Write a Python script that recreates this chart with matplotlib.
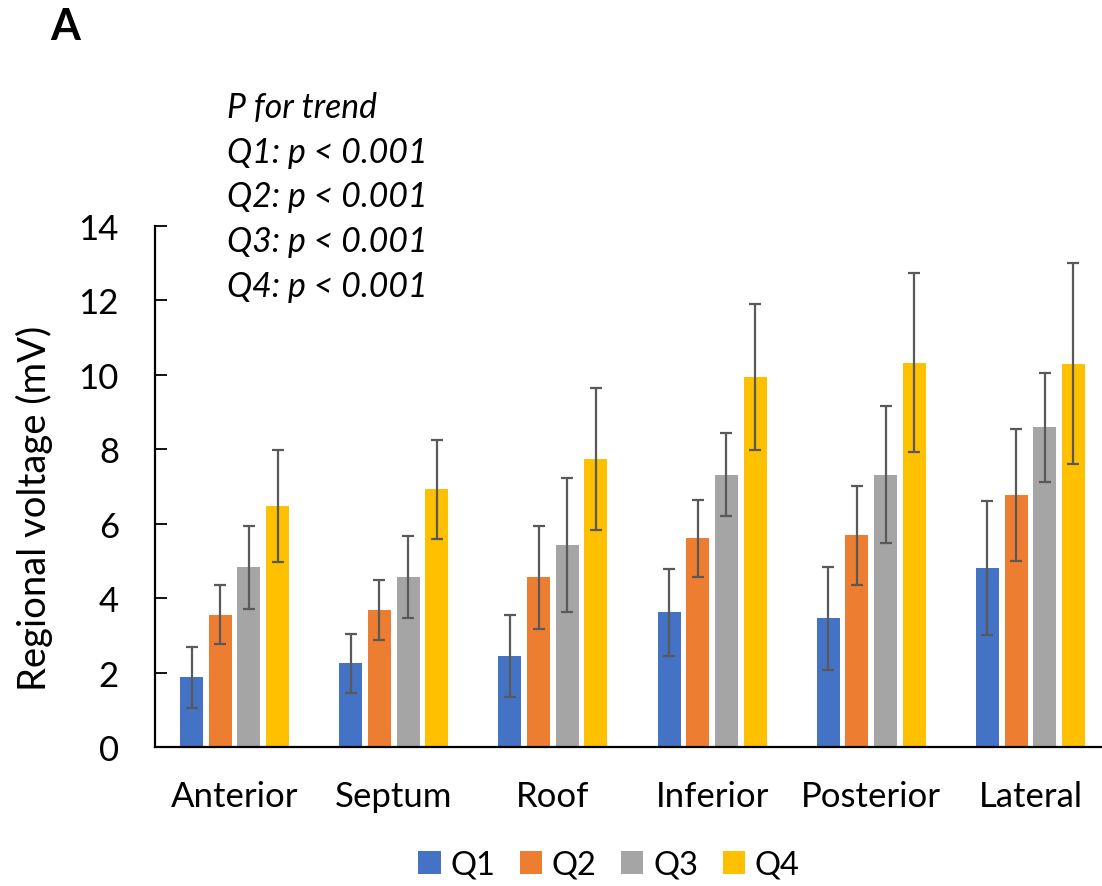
import numpy as np
import matplotlib
matplotlib.use("Agg")
import matplotlib.pyplot as plt
from matplotlib.patches import Patch

plt.rcParams['font.family'] = ['Lato', 'DejaVu Sans']

regions = ["Anterior", "Septum", "Roof", "Inferior", "Posterior", "Lateral"]
groups = ["Q1", "Q2", "Q3", "Q4"]

# mean regional voltage (mV) per quartile
q1_mean = [1.87, 2.25, 2.44, 3.62, 3.46, 4.82]
q2_mean = [3.56, 3.68, 4.56, 5.61, 5.69, 6.78]
q3_mean = [4.83, 4.56, 5.43, 7.32, 7.32, 8.59]
q4_mean = [6.47, 6.92, 7.73, 9.94, 10.33, 10.30]

# standard deviation per quartile
q1_sd = [0.81, 0.79, 1.10, 1.17, 1.38, 1.80]
q2_sd = [0.80, 0.80, 1.38, 1.04, 1.33, 1.77]
q3_sd = [1.11, 1.10, 1.80, 1.12, 1.83, 1.47]
q4_sd = [1.51, 1.32, 1.91, 1.96, 2.40, 2.70]

colors = ["#4472C4", "#ED7D31", "#A5A5A5", "#FFC000"]
means = [q1_mean, q2_mean, q3_mean, q4_mean]
sds = [q1_sd, q2_sd, q3_sd, q4_sd]

W, H = 1102, 887
fig = plt.figure(figsize=(W / 100, H / 100), dpi=100)
ax = fig.add_axes([155 / W, (H - 748) / H, (1110 - 155) / W, (748 - 227) / H])

x = np.arange(len(regions))
step = 0.18
width = 0.145
for i, (m, s, c) in enumerate(zip(means, sds, colors)):
    ax.bar(x + (i - 1.5) * step, m, width=width, color=c, zorder=2,
           yerr=s, error_kw=dict(ecolor="#595959", elinewidth=1.6,
                                 capsize=4.5, capthick=1.6, zorder=3))

ax.set_xlim(-0.5, 5.5)
ax.set_ylim(0, 14)
ax.set_yticks(range(0, 15, 2))
ax.set_xticks(x)
ax.set_xticklabels(regions)
ax.tick_params(axis='y', direction='in', length=8.5, width=1.3,
               labelsize=25, pad=26)
ax.tick_params(axis='x', length=0, labelsize=25, pad=24)
for side in ("top", "right"):
    ax.spines[side].set_visible(False)
for side in ("left", "bottom"):
    ax.spines[side].set_linewidth(1.6)
    ax.spines[side].set_color("black")

fig.text(34 / W, 1 - 508 / H, "Regional voltage (mV)", rotation=90,
         ha="center", va="center", fontsize=27.5)

fig.text(50 / W, 1 - 40 / H, "A", fontsize=31, fontweight="bold",
         ha="left", va="baseline")

trend_lines = ["P for trend", "Q1: p < 0.001", "Q2: p < 0.001",
               "Q3: p < 0.001", "Q4: p < 0.001"]
for k, line in enumerate(trend_lines):
    fig.text(227 / W, 1 - (118 + 44.7 * k) / H, line, fontsize=24.3,
             style="italic", ha="left", va="baseline")

handles = [Patch(facecolor=c, edgecolor="none") for c in colors]
fig.legend(handles, groups, loc="center", bbox_to_anchor=(609 / W, 1 - 866 / H),
           ncol=4, frameon=False, fontsize=23.5, handlelength=0.68,
           handleheight=0.68, handletextpad=0.3, columnspacing=0.75)

fig.savefig("out.png", dpi=100)
